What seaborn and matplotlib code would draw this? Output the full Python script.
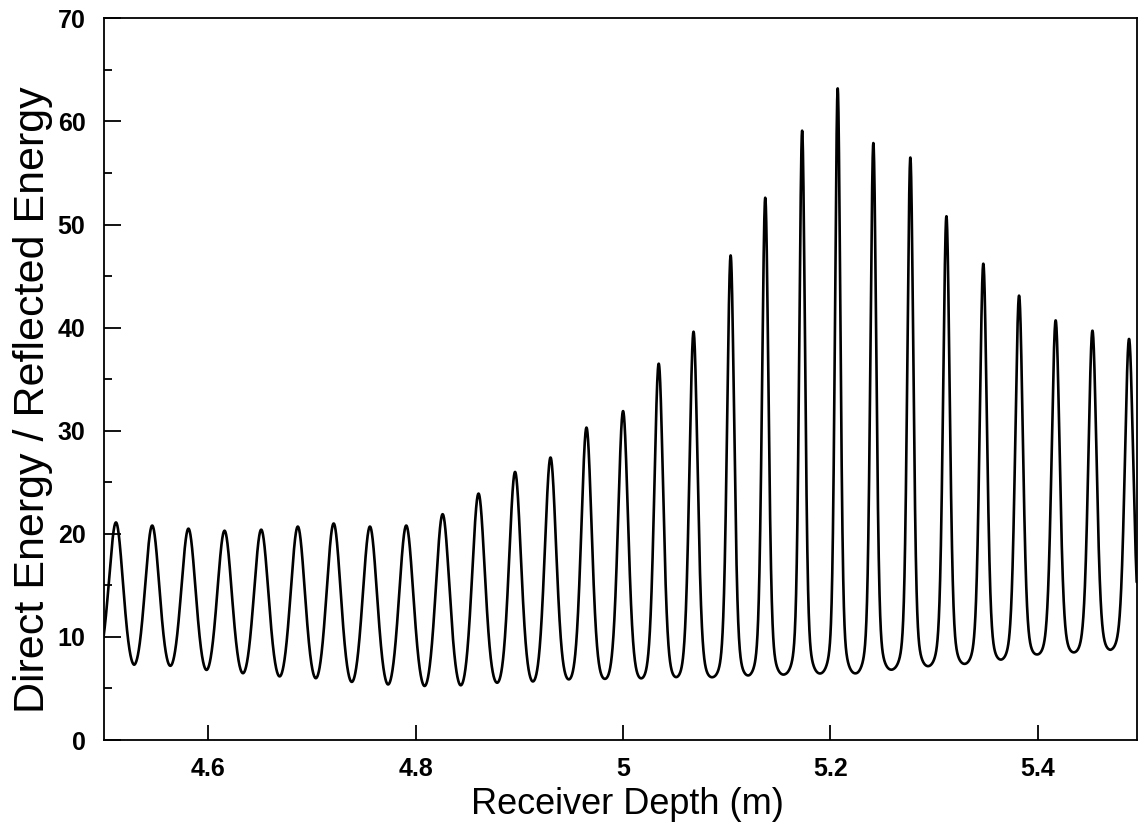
import numpy as np
import pandas as pd
import matplotlib
matplotlib.use("Agg")
import matplotlib.pyplot as plt
import seaborn as sns
from matplotlib.ticker import MultipleLocator, FixedLocator

# ---- data ----
peak_depth = [4.5108, 4.5457, 4.5807, 4.6155, 4.6509, 4.6862, 4.7208, 4.7558,
              4.7908, 4.8259, 4.8605, 4.8958, 4.9300, 4.9647, 5.0000, 5.0344,
              5.0680, 5.1038, 5.1372, 5.1728, 5.2071, 5.2415, 5.2772, 5.3120,
              5.3476, 5.3821, 5.4174, 5.4529, 5.4882]
peak_ratio = [21.1, 20.8, 20.5, 20.3, 20.4, 20.7, 21.0, 20.7,
              20.8, 21.9, 23.9, 26.0, 27.4, 30.3, 31.9, 36.5,
              39.6, 47.0, 52.6, 59.1, 63.2, 57.9, 56.5, 50.8,
              46.2, 43.1, 40.7, 39.7, 38.9]
trough_depth = [4.4935, 4.5283, 4.5630, 4.5983, 4.6327, 4.6680, 4.7033, 4.7387,
                4.7729, 4.8076, 4.8423, 4.8776, 4.9124, 4.9470, 4.9817, 5.0167,
                5.0514, 5.0867, 5.1220, 5.1567, 5.1917, 5.2270, 5.2612, 5.2958,
                5.3305, 5.3649, 5.3992, 5.4349, 5.4703, 5.5060]
trough_ratio = [7.5, 7.3, 7.2, 6.8, 6.5, 6.2, 6.0, 5.65,
                5.4, 5.3, 5.4, 5.6, 5.7, 5.9, 5.95, 6.0,
                6.1, 6.1, 6.3, 6.4, 6.5, 6.6, 6.9, 7.2,
                7.4, 7.8, 8.3, 8.5, 8.75, 9.0]
x_ticks = [4.6, 4.8, 5.0, 5.2, 5.4]
x_tick_labels = ["4.6", "4.8", "5", "5.2", "5.4"]
y_ticks = [0, 10, 20, 30, 40, 50, 60, 70]
x_label = "Receiver Depth (m)"
y_label = "Direct Energy / Reflected Energy"

# ---- build the continuous curve through the read extrema ----
pk_x = np.array(peak_depth)
pk_y = np.array(peak_ratio)
tr_x = np.array(trough_depth)
tr_y = np.array(trough_ratio)
width = 0.16 * pk_y ** -0.915      # taller resonances are narrower
eta = 0.35                          # share of heavy-tailed profile


def profile(x):
    u = (x[:, None] - pk_x[None, :]) / width[None, :]
    return (1 - eta) * np.exp(-u ** 2) + eta / (1 + u ** 2)


def base_matrix(x):
    B = np.zeros((len(x), len(tr_x)))
    for j in range(len(tr_x)):
        e = np.zeros(len(tr_x))
        e[j] = 1.0
        B[:, j] = np.interp(x, tr_x, e)
    return B


A = np.vstack([np.hstack([profile(pk_x), base_matrix(pk_x)]),
               np.hstack([profile(tr_x), base_matrix(tr_x)])])
rhs = np.concatenate([pk_y, tr_y])
sol = np.linalg.solve(A, rhs)
amp, base = sol[:len(pk_x)], sol[len(pk_x):]

x_lo, x_hi = 4.4987, 5.4956
depth = np.linspace(x_lo, x_hi, 8000)
ratio = profile(depth) @ amp + base_matrix(depth) @ base
df = pd.DataFrame({"depth": depth, "ratio": ratio})

# ---- plot ----
sns.set_style("white")
plt.rcParams["font.family"] = ["Liberation Sans", "DejaVu Sans"]
for key in ["text.color", "axes.labelcolor", "xtick.color", "ytick.color"]:
    plt.rcParams[key] = "black"

fig = plt.figure(figsize=(11.43, 8.33), dpi=100)
ax = fig.add_axes([103.5 / 1143, 1 - 740 / 833, (1136.7 - 103.5) / 1143, (740 - 18.3) / 833])
sns.lineplot(data=df, x="depth", y="ratio", color="black", linewidth=1.9, ax=ax)

ax.set_xlim(x_lo, x_hi)
ax.set_ylim(0, 70)
ax.xaxis.set_major_locator(FixedLocator(x_ticks))
ax.set_xticklabels(x_tick_labels)
ax.yaxis.set_major_locator(FixedLocator(y_ticks))
ax.yaxis.set_minor_locator(MultipleLocator(5))

for s in ax.spines.values():
    s.set_color("black")
    s.set_linewidth(1.3)
    s.set_visible(True)

ax.tick_params(axis="x", which="major", direction="in", length=11, width=1.3,
               labelsize=18, pad=12, top=False, bottom=True, color="black")
ax.tick_params(axis="y", which="major", direction="in", length=12, width=1.3,
               labelsize=18, pad=13, left=True, right=False, color="black")
ax.tick_params(axis="y", which="minor", direction="in", length=6, width=1.3,
               left=True, right=False, color="black")
for lab in ax.get_xticklabels() + ax.get_yticklabels():
    lab.set_fontweight("bold")

ax.set_xlabel(x_label, fontsize=26)
ax.set_ylabel(y_label, fontsize=31)
ax.xaxis.set_label_coords(0.507, -0.065)
ax.yaxis.set_label_coords(-0.049, 0.471)

fig.savefig("out.png", dpi=100)
